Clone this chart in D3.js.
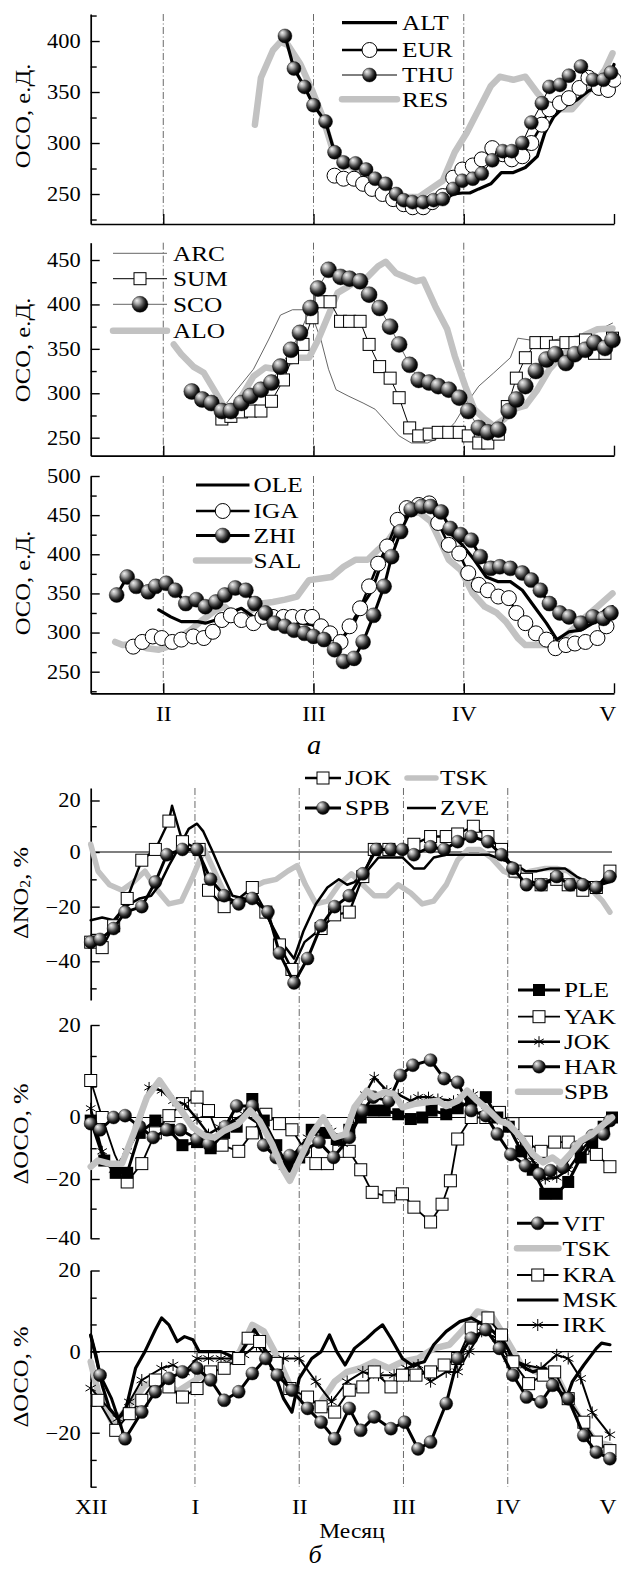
<!DOCTYPE html>
<html><head><meta charset="utf-8">
<script src="https://cdn.jsdelivr.net/npm/d3@7"></script>
<style>body{margin:0;background:#fff}svg{display:block;background:#fff}</style>
</head><body>
<script>
// ================= DATA =================
const monthTicksA = [2, 3, 4, 5];
const monthLabelsA = ["II", "III", "IV", "V"];
const monthTicksB = [0, 1, 2, 3, 4, 5];
const monthLabelsB = ["XII", "I", "II", "III", "IV", "V"];

// --- panel a1 (ОСО, е.Д.) ---
const a1ALT = [[2.81,405],[2.87,373],[2.94,355],[3.0,337],[3.08,321],[3.14,291],[3.2,281],[3.28,280],[3.35,274],[3.41,265],[3.48,260],[3.55,250],[3.6,244],[3.66,242],[3.73,241],[3.8,241],[3.86,244],[3.93,250],[3.99,251],[4.04,251],[4.1,255],[4.18,260],[4.25,271],[4.33,271],[4.41,276],[4.49,287],[4.54,310],[4.6,326],[4.67,336],[4.75,342],[4.83,351],[4.91,356],[4.96,359],[5.0,377]];
const a1EUR = [[3.14,268],[3.2,265],[3.27,265],[3.33,260],[3.39,255],[3.46,250],[3.53,245],[3.6,240],[3.66,237],[3.73,237],[3.79,242],[3.86,248],[3.93,266],[3.99,274],[4.06,278],[4.12,284],[4.19,295],[4.26,289],[4.32,284],[4.39,287],[4.45,300],[4.52,318],[4.57,333],[4.64,339],[4.7,344],[4.77,354],[4.83,364],[4.9,354],[4.96,352],[5.0,362]];
const a1THU = [[2.81,405],[2.87,373],[2.94,355],[3.0,337],[3.08,321],[3.14,291],[3.2,281],[3.28,280],[3.35,274],[3.41,265],[3.48,260],[3.55,250],[3.6,244],[3.66,242],[3.73,242],[3.8,244],[3.86,245],[3.93,255],[3.99,263],[4.06,265],[4.12,270],[4.19,283],[4.26,292],[4.32,292],[4.39,300],[4.45,320],[4.52,339],[4.57,355],[4.64,357],[4.7,366],[4.78,375],[4.86,362],[4.93,362],[4.98,369]];
const a1RES = [[2.61,318],[2.65,364],[2.73,391],[2.78,399],[2.83,396],[2.91,378],[2.99,352],[3.06,326],[3.12,297],[3.2,281],[3.28,274],[3.36,268],[3.44,258],[3.52,252],[3.6,247],[3.7,247],[3.78,255],[3.86,263],[3.94,291],[4.02,310],[4.1,333],[4.18,356],[4.24,365],[4.33,362],[4.41,365],[4.49,349],[4.57,336],[4.65,333],[4.72,333],[4.78,343],[4.86,356],[4.94,372],[4.99,388]];

// --- panel a2 ---
const a2ARC = [[2.39,282],[2.49,304],[2.6,327],[2.7,360],[2.78,388],[2.86,394],[2.95,394],[3.0,383],[3.05,360],[3.1,327],[3.15,304],[3.23,297],[3.33,289],[3.41,282],[3.49,267],[3.57,252],[3.65,244],[3.76,244],[3.86,252],[3.94,267],[4.02,289],[4.1,308],[4.2,323],[4.31,340],[4.36,362],[4.44,360],[4.6,360],[4.73,364],[4.86,368],[4.99,379]];
const a2SUM = [[2.39,271],[2.45,274],[2.52,279],[2.58,280],[2.65,280],[2.72,291],[2.8,315],[2.86,340],[2.93,355],[2.99,385],[3.05,403],[3.11,403],[3.18,381],[3.24,381],[3.31,381],[3.37,355],[3.44,330],[3.51,317],[3.57,295],[3.64,261],[3.7,252],[3.77,254],[3.83,256],[3.9,256],[3.97,256],[4.03,252],[4.1,244],[4.16,244],[4.23,254],[4.29,285],[4.35,317],[4.41,340],[4.48,357],[4.55,357],[4.61,353],[4.68,357],[4.74,357],[4.81,360],[4.87,345],[4.94,345],[4.99,362]];
const a2SCO = [[2.19,302],[2.26,293],[2.32,289],[2.39,280],[2.45,280],[2.52,289],[2.58,297],[2.65,304],[2.72,312],[2.78,330],[2.85,349],[2.91,368],[2.98,396],[3.03,418],[3.1,439],[3.18,431],[3.24,429],[3.31,426],[3.37,411],[3.44,396],[3.51,375],[3.57,355],[3.64,332],[3.7,315],[3.77,312],[3.83,308],[3.9,304],[3.97,295],[4.03,280],[4.1,261],[4.16,256],[4.23,259],[4.3,280],[4.35,293],[4.41,308],[4.48,325],[4.55,338],[4.61,344],[4.68,334],[4.74,344],[4.81,349],[4.87,357],[4.94,351],[4.99,360]];
const a2ALO = [[2.07,355],[2.12,344],[2.2,330],[2.27,323],[2.33,306],[2.4,286],[2.47,284],[2.53,299],[2.6,319],[2.68,329],[2.76,327],[2.83,334],[2.9,340],[2.97,340],[3.03,360],[3.1,388],[3.16,413],[3.23,420],[3.3,428],[3.36,431],[3.43,443],[3.48,448],[3.55,435],[3.61,431],[3.68,426],[3.73,428],[3.81,398],[3.89,372],[3.94,342],[4.01,308],[4.07,282],[4.14,271],[4.2,263],[4.27,271],[4.33,282],[4.41,286],[4.49,304],[4.57,327],[4.65,342],[4.73,353],[4.81,366],[4.89,372],[4.99,373]];

// --- panel a3 ---
const a3OLE = [[1.97,329],[2.05,320],[2.12,314],[2.23,314],[2.28,312],[2.35,316],[2.44,325],[2.52,331],[2.6,320],[2.68,316],[2.76,312],[2.83,314],[2.91,312],[2.99,310],[3.07,303],[3.15,291],[3.2,295],[3.27,312],[3.32,333],[3.39,354],[3.45,388],[3.52,414],[3.58,440],[3.65,459],[3.72,463],[3.78,461],[3.85,444],[3.91,427],[3.99,412],[4.07,393],[4.15,371],[4.23,365],[4.31,365],[4.39,354],[4.47,333],[4.55,312],[4.62,291],[4.7,301],[4.78,303],[4.86,312],[4.94,329],[4.99,333]];
const a3IGA = [[1.8,282],[1.86,288],[1.93,295],[1.99,293],[2.06,288],[2.12,291],[2.2,295],[2.27,293],[2.33,301],[2.39,316],[2.45,322],[2.52,316],[2.6,312],[2.66,320],[2.73,320],[2.8,320],[2.86,320],[2.93,320],[2.99,320],[3.05,308],[3.11,299],[3.18,288],[3.24,308],[3.31,331],[3.37,359],[3.43,388],[3.49,410],[3.56,444],[3.62,459],[3.7,463],[3.77,465],[3.83,440],[3.9,412],[3.97,401],[4.03,376],[4.1,361],[4.16,354],[4.23,346],[4.3,344],[4.35,325],[4.41,312],[4.48,299],[4.55,291],[4.61,280],[4.68,284],[4.74,286],[4.81,288],[4.89,293],[4.95,308]];
const a3ZHI = [[1.69,348],[1.76,371],[1.82,359],[1.9,352],[1.95,359],[2.02,363],[2.08,354],[2.15,337],[2.22,342],[2.28,333],[2.35,339],[2.41,348],[2.48,357],[2.55,354],[2.61,337],[2.68,325],[2.74,312],[2.81,308],[2.87,303],[2.94,299],[3.0,295],[3.07,291],[3.14,278],[3.2,263],[3.27,267],[3.33,288],[3.4,322],[3.47,359],[3.52,397],[3.58,429],[3.65,457],[3.72,461],[3.78,461],[3.85,454],[3.91,433],[3.98,425],[4.05,418],[4.11,397],[4.18,382],[4.24,384],[4.31,382],[4.39,376],[4.45,367],[4.51,354],[4.57,337],[4.64,325],[4.7,320],[4.78,312],[4.86,320],[4.93,318],[4.98,325]];
const a3SAL = [[1.68,288],[1.73,284],[1.81,286],[1.89,280],[1.97,278],[2.03,282],[2.1,293],[2.18,303],[2.26,316],[2.35,329],[2.41,333],[2.49,318],[2.56,325],[2.65,337],[2.73,339],[2.81,342],[2.89,346],[2.97,367],[3.05,369],[3.12,371],[3.2,384],[3.28,393],[3.36,393],[3.43,406],[3.49,416],[3.56,435],[3.62,450],[3.7,454],[3.78,442],[3.85,414],[3.9,393],[3.98,380],[4.06,350],[4.14,333],[4.22,325],[4.28,314],[4.36,293],[4.41,284],[4.49,284],[4.57,284],[4.65,291],[4.73,305],[4.81,320],[4.89,333],[4.99,350]];

// --- panel b1 (ΔNO2, %) --- third element 0 = no marker at that point
const b1JOK = [[0,-33],[0.11,-35],[0.22,-27],[0.35,-17],[0.49,-3],[0.62,1],[0.75,12],[0.78,18,0],[0.88,4],[1.04,1],[1.13,-14],[1.28,-20],[1.42,-17,0],[1.55,-13],[1.68,-22],[1.81,-34],[1.93,-43],[2.05,-33,0],[2.21,-28],[2.34,-23],[2.48,-22],[2.61,-9],[2.72,1],[2.86,1],[3.1,3],[3.26,6],[3.41,6],[3.52,7],[3.67,10],[3.81,6],[3.94,1],[4.07,-7],[4.18,-10],[4.32,-12],[4.47,-10],[4.58,-12],[4.72,-14],[4.85,-13],[4.98,-7]];
const b1SPB = [[0,-33],[0.09,-32],[0.22,-28],[0.33,-22],[0.49,-20],[0.62,-11],[0.73,-1],[0.88,1],[1.02,1],[1.15,-10],[1.28,-16],[1.42,-19],[1.55,-17],[1.7,-22],[1.81,-37],[1.95,-48],[2.08,-39],[2.21,-27],[2.34,-20],[2.48,-16],[2.61,-8],[2.74,1],[2.88,1],[2.99,1],[3.1,-1],[3.26,2],[3.39,1],[3.52,4],[3.65,6],[3.81,4],[3.94,-1],[4.05,-6],[4.18,-12],[4.32,-12],[4.47,-9],[4.6,-12],[4.72,-12],[4.85,-13],[4.98,-9]];
const b1TSK = [[0,3],[0.07,-7],[0.18,-12],[0.3,-14],[0.41,-11],[0.52,-7],[0.64,-14],[0.75,-19],[0.87,-18],[0.98,-9],[1.09,1],[1.21,-9],[1.32,-18],[1.43,-19],[1.55,-13],[1.66,-11],[1.78,-10],[1.89,-7],[1.98,-5],[2.06,-12],[2.16,-19],[2.27,-18],[2.38,-12],[2.5,-8],[2.61,-12],[2.72,-16],[2.84,-16],[2.95,-12],[3.07,-15],[3.18,-19],[3.29,-18],[3.41,-12],[3.52,-3],[3.62,1],[3.73,1],[3.84,-2],[3.96,-7],[4.09,-9],[4.22,-7],[4.36,-6],[4.47,-6],[4.58,-7],[4.7,-11],[4.81,-14],[4.91,-18],[4.98,-22]];
const b1ZVE = [[0,-25],[0.11,-24],[0.22,-25],[0.33,-20],[0.47,-17],[0.58,-16],[0.66,-12],[0.75,-5],[0.85,2],[0.94,9],[1.02,11],[1.08,8],[1.16,1],[1.25,-7],[1.36,-16],[1.47,-17],[1.59,-18],[1.7,-24],[1.81,-32],[1.95,-39],[2.04,-29],[2.16,-19],[2.27,-13],[2.38,-10],[2.46,-12],[2.53,-11],[2.65,-7],[2.76,-2],[2.88,-2],[2.99,-2],[3.1,-6],[3.2,-6],[3.29,-2],[3.41,-1],[3.52,-1],[3.67,-1],[3.82,-1],[3.96,-3],[4.05,-4],[4.17,-7],[4.28,-7],[4.41,-6],[4.55,-6],[4.66,-9],[4.77,-11],[4.89,-12],[4.98,-11]];

// --- panel b2 (ΔОСО, %) ---
const b2PLE = [[0,-1],[0.13,-14],[0.24,-18],[0.35,-18],[0.47,-5],[0.62,-1],[0.75,-4],[0.88,-9],[1.02,-8],[1.15,-10],[1.28,-5],[1.4,-3],[1.55,4],[1.66,-1],[1.78,-9],[1.89,-16],[2.0,-13],[2.12,-4],[2.25,-5],[2.36,-7],[2.48,-4],[2.59,0],[2.71,1.5],[2.82,1.5],[2.95,0.7],[3.07,-0.5],[3.18,0],[3.27,1.5],[3.41,0.7],[3.52,2],[3.65,3.6],[3.79,4.4],[3.9,0],[4.01,-3],[4.13,-11],[4.24,-17],[4.36,-25],[4.47,-25],[4.58,-21],[4.7,-13],[4.81,-8],[4.92,-3],[5.0,0]];
const b2YAK = [[0,8],[0.11,0],[0.23,-12,0],[0.35,-21],[0.49,-15],[0.62,-5],[0.75,0.4],[0.88,3],[1.02,4.4],[1.13,1.5],[1.26,-9],[1.42,-11],[1.55,-5],[1.68,0.7],[1.81,-2],[1.93,-4],[2.06,-11],[2.16,-15],[2.27,-15],[2.38,-11],[2.48,-11],[2.59,-17],[2.7,-24.5],[2.86,-26],[2.99,-25],[3.1,-29.5],[3.26,-34.5],[3.37,-28.5],[3.45,-20.6],[3.52,-7],[3.65,0],[3.79,0],[3.92,1.1],[4.05,-2],[4.18,-8],[4.32,-11],[4.45,-8],[4.58,-8],[4.72,-10],[4.85,-12],[4.98,-16]];
const b2JOK = [[0,2],[0.11,-11],[0.22,-17],[0.35,-11],[0.45,-5],[0.56,6.5],[0.68,5.8],[0.79,3.6],[0.9,2.9],[1.02,-0.5],[1.13,-5.4],[1.24,-3.2],[1.36,-1.1],[1.47,0.7],[1.62,-2.2],[1.74,-8.6],[1.85,-16],[2.08,-6.5],[2.19,-4.3],[2.31,-4.3],[2.42,-8.6],[2.52,0],[2.63,5],[2.72,8.7],[2.84,5.8],[2.95,5],[3.07,3.6],[3.14,4.4],[3.24,4.4],[3.33,4],[3.48,3.6],[3.56,4.4],[3.67,5],[3.79,1.5],[3.9,-0.5],[4.01,-2.2],[4.13,-7.6],[4.24,-14],[4.36,-20],[4.47,-19.5],[4.58,-17],[4.7,-11],[4.81,-6.5],[4.92,-3.2],[5.0,0]];
const b2HAR = [[0,-2],[0.09,-4],[0.22,0],[0.33,0.4],[0.47,-3],[0.6,-6.5],[0.73,-4],[0.86,-4],[1.02,-7],[1.13,-8.6],[1.29,-3],[1.4,2.5],[1.55,2.5],[1.66,-9],[1.78,-13],[1.91,-12.4],[2.04,-10.8],[2.19,-8],[2.33,-13],[2.48,-6.5],[2.61,1.5],[2.71,4.4],[2.86,3.6],[2.97,9.1],[3.09,11.3],[3.26,12.4],[3.39,8.4],[3.52,7.6],[3.65,1.5],[3.79,0.4],[3.9,-5.4],[4.03,-12],[4.17,-15.7],[4.3,-18.4],[4.41,-17.3],[4.53,-16.2],[4.66,-9.7],[4.81,-5.9],[4.92,-5.4],[4.98,-1]];
const b2SPB = [[0,-16],[0.07,-14],[0.18,-15],[0.3,-15],[0.41,-5.4],[0.54,4.4],[0.66,8],[0.77,4.4],[0.87,1.5],[0.98,-3.2],[1.09,-5.9],[1.19,-6.5],[1.28,-4.3],[1.41,-2.2],[1.53,1.5],[1.62,-1.1],[1.74,-8.6],[1.83,-16],[1.91,-20.6],[2.0,-14],[2.12,-5.4],[2.23,0],[2.34,-6.5],[2.44,-5.4],[2.53,2.2],[2.65,5.8],[2.72,4.4],[2.82,5.5],[2.91,5.1],[2.99,2.2],[3.1,2.9],[3.22,3.3],[3.33,3.6],[3.41,2.5],[3.52,3.6],[3.61,5.8],[3.71,3.6],[3.82,1.5],[3.92,-1.1],[4.01,-2.2],[4.13,-6.5],[4.24,-11.9],[4.34,-14.6],[4.43,-13],[4.51,-15.1],[4.6,-11.9],[4.7,-7.6],[4.81,-5.4],[4.92,-2.2],[5.0,0]];

// --- panel b3 (ΔОСО, %) ---
const b3VIT = [[0,4,0],[0.09,-5.8],[0.2,-11.6,0],[0.33,-21.5],[0.49,-14.9],[0.62,-9.9],[0.75,-6.6],[0.88,-5],[1.02,-4.1],[1.15,-7],[1.28,-12],[1.42,-9.9],[1.55,-5.4],[1.68,-1.7],[1.79,-5.8],[1.93,-9.5],[2.08,-14],[2.21,-17.4],[2.34,-21.5],[2.48,-14],[2.59,-19.4],[2.72,-16.1],[2.88,-19],[3.01,-17.4],[3.14,-24],[3.26,-22.3],[3.41,-12.8],[3.52,-1.7],[3.65,3.3],[3.79,5.4],[3.92,0.8],[4.05,-5.8],[4.18,-11.2],[4.32,-12.4],[4.43,-8.3],[4.58,-11.6],[4.73,-20.7],[4.85,-24.8],[4.98,-26.4]];
const b3TSK = [[0,-2.5],[0.07,-9.9],[0.22,-18.2],[0.37,-13.2],[0.52,-8.3],[0.68,-6.6],[0.83,-9.9],[0.98,-7.4],[1.13,-5],[1.28,-3.3],[1.43,0],[1.55,6.6],[1.66,5],[1.78,-0.8],[1.91,-8.3],[2.04,-12.4],[2.19,-13.2],[2.34,-7.4],[2.46,-5],[2.59,-4.1],[2.72,-2.5],[2.86,-4.1],[2.99,-2.5],[3.14,-1.7],[3.29,0.8],[3.44,1.7],[3.56,5],[3.71,9.9],[3.84,9.1],[3.98,3.3],[4.13,-3.3],[4.28,-5],[4.43,-4.1],[4.58,-11.6],[4.73,-18.2],[4.85,-22.3],[4.98,-23.1]];
const b3KRA = [[0.07,-12],[0.24,-19.4],[0.37,-15.3],[0.49,-12],[0.62,-7],[0.75,-8.7],[0.88,-11.2],[1.02,-9.1],[1.15,-5],[1.28,-4.1],[1.42,-1.7],[1.51,3.3],[1.62,2.5],[1.78,-2.9],[1.91,-9.1],[2.08,-11.2],[2.21,-13.6],[2.34,-14.9],[2.48,-9.5],[2.61,-8.7],[2.72,-5],[2.88,-8.7],[2.99,-5.8],[3.12,-5.8],[3.26,-5],[3.39,-3.3],[3.52,-1.7],[3.65,5.8],[3.81,8.3],[3.94,4.1],[4.05,-2.5],[4.2,-7.9],[4.34,-5.8],[4.45,-5],[4.58,-11.6],[4.73,-17.4],[4.85,-22.3],[4.98,-24.4]];
const b3MSK = [[0,4.1],[0.05,-0.8],[0.11,-8.3],[0.18,-14],[0.26,-16.5],[0.33,-14.9],[0.43,-4.1],[0.52,0],[0.62,5.4],[0.68,8.3],[0.75,6.6],[0.83,2.5],[0.9,3.7],[0.98,2.9],[1.04,0],[1.13,0],[1.25,0],[1.4,-1.7],[1.49,1.7],[1.57,5.4],[1.62,3.5],[1.7,-1.7],[1.78,-6.6],[1.85,-11.6],[1.93,-14.9],[2.0,-6.6],[2.12,-1.7],[2.21,0],[2.29,4.1],[2.36,0],[2.44,-3.3],[2.53,0.8],[2.65,3.3],[2.72,5],[2.8,6.6],[2.88,3.3],[2.99,-1.7],[3.08,-3.3],[3.2,-2.5],[3.29,1.7],[3.41,5],[3.54,7.4],[3.65,8.3],[3.77,6.6],[3.86,5],[3.98,1.7],[4.05,-1.7],[4.17,-4.1],[4.24,-5],[4.36,-4.1],[4.47,-8.3],[4.55,-12.4],[4.62,-7.4],[4.73,-3.3],[4.85,0.8],[4.9,2.1],[4.98,1.7]];
const b3IRK = [[0,-9],[0.26,-16.5],[0.37,-12.4],[0.49,-7],[0.68,-4.1],[0.79,-3.3],[0.9,-5],[1.02,-1.7],[1.13,-1.7],[1.25,-1.7],[1.36,-1.7],[1.47,-0.8],[1.59,1.7],[1.7,-1.7],[1.85,-1.7],[2.0,-1.7],[2.16,-7.4],[2.31,-12.4],[2.46,-7.4],[2.61,-5],[2.76,-5.8],[2.91,-5.8],[3.03,-4.1],[3.14,-3.3],[3.26,-7.4],[3.41,-5],[3.52,-5],[3.63,0],[3.75,5],[3.9,3.3],[4.01,-1.7],[4.17,-3.3],[4.32,-4.1],[4.47,-0.8],[4.58,-1.7],[4.7,-6.6],[4.81,-15],[4.98,-20.5]];

// ================= DRAWING =================
const FONT = '"Liberation Serif","Times New Roman",serif';
const W = 621, H = 1575, X0 = 90.7;
const svg = d3.select('body').append('svg').attr('width', W).attr('height', H);
const defs = svg.append('defs');
const gr = defs.append('radialGradient').attr('id','sph').attr('cx','0.4').attr('cy','0.38').attr('r','0.62').attr('fx','0.3').attr('fy','0.26');
[[0,'#f2f2f2'],[0.3,'#a8a8a8'],[0.58,'#4a4a4a'],[0.8,'#111'],[1,'#000']].forEach(s=>gr.append('stop').attr('offset',s[0]).attr('stop-color',s[1]));

const GRAY = '#c2c2c2';
const xa = d3.scaleLinear().domain([1.517, 5]).range([X0, 614]);
const xb = d3.scaleLinear().domain([0, 5]).range([X0, 612]);
const ya1 = d3.scaleLinear().domain([220.6, 426.5]).range([224, 14]);
const ya2 = d3.scaleLinear().domain([229.7, 469.5]).range([455.7, 242.7]);
const ya3 = d3.scaleLinear().domain([222.4, 500]).range([693.3, 476]);
const yb1 = d3.scaleLinear().domain([25, 20, 0, -40, -54.3]).range([788, 800.5, 852, 961.3, 1000]);
const yb2 = d3.scaleLinear().domain([20, 0, -20, -40]).range([1025, 1117.5, 1179, 1238.3]);
const yb3 = d3.scaleLinear().domain([20, -33.3]).range([1270.5, 1486.7]);

function text(x, y, s, o = {}) {
  const t = svg.append('text')
    .attr('transform', `translate(${x},${y}) rotate(${o.rot || 0}) scale(${o.sx || 1.12},1)`)
    .attr('text-anchor', o.anchor || 'start').attr('dominant-baseline', 'central')
    .attr('font-family', FONT).attr('font-size', o.size || 21).attr('fill', '#000')
    .attr('font-style', o.italic ? 'italic' : 'normal');
  if (Array.isArray(s)) s.forEach(p => t.append('tspan').text(p.t).attr('font-size', p.size || null).attr('dy', p.dy || null));
  else t.text(s);
  return t;
}

function marker(g, type, x, y, r) {
  if (type === 'circle') g.append('circle').attr('cx', x).attr('cy', y).attr('r', r).attr('fill', '#fff').attr('stroke', '#000').attr('stroke-width', 1);
  else if (type === 'sphere') g.append('circle').attr('cx', x).attr('cy', y).attr('r', r).attr('fill', 'url(#sph)').attr('stroke', '#000').attr('stroke-width', 0.4);
  else if (type === 'square') g.append('rect').attr('x', x - r).attr('y', y - r).attr('width', 2 * r).attr('height', 2 * r).attr('fill', '#fff').attr('stroke', '#000').attr('stroke-width', 1);
  else if (type === 'bsquare') g.append('rect').attr('x', x - r).attr('y', y - r).attr('width', 2 * r).attr('height', 2 * r).attr('fill', '#000');
  else if (type === 'star') {
    [90, 30, 150].forEach(a => {
      const dx = r * Math.cos(a * Math.PI / 180), dy = r * Math.sin(a * Math.PI / 180);
      g.append('line').attr('x1', x - dx).attr('y1', y - dy).attr('x2', x + dx).attr('y2', y + dy).attr('stroke', '#000').attr('stroke-width', 1);
    });
  }
}

function series(x, y, data, st) {
  const g = svg.append('g');
  g.append('path').datum(data).attr('fill', 'none').attr('stroke', st.c).attr('stroke-width', st.w)
    .attr('stroke-linejoin', 'round').attr('stroke-linecap', 'round')
    .attr('d', d3.line().x(d => x(d[0])).y(d => y(d[1])));
  if (st.m) data.forEach(d => { if (d[2] !== 0) marker(g, st.m, x(d[0]), y(d[1]), st.r); });
}

function legendItem(x1, x2, tx, yy, name, st) {
  const g = svg.append('g');
  g.append('line').attr('x1', x1).attr('x2', x2).attr('y1', yy).attr('y2', yy).attr('stroke', st.c).attr('stroke-width', st.w).attr('stroke-linecap', st.c === GRAY ? 'round' : 'butt');
  if (st.m) marker(g, st.m, (x1 + x2) / 2, yy, st.r);
  text(tx, yy, name, { size: 22, sx: 1.15 });
}

function dashLines(x, months, yTop, yBot) {
  months.forEach(m => svg.append('line').attr('x1', x(m)).attr('x2', x(m)).attr('y1', yTop).attr('y2', yBot)
    .attr('stroke', '#444').attr('stroke-width', 0.8).attr('stroke-dasharray', '7,2.5,1,2.5'));
}

function yAxis(y, major, minor) {
  const g = svg.append('g').attr('transform', `translate(${X0},0)`);
  g.call(d3.axisLeft(y).tickValues(major).tickSizeInner(-9).tickSizeOuter(0).tickPadding(9));
  g.append('g').call(d3.axisLeft(y).tickValues(minor).tickSizeInner(-6).tickSizeOuter(0).tickFormat(''))
    .select('.domain').remove();
  g.selectAll('.domain').attr('stroke-width', 1.7).attr('stroke', '#000');
  g.selectAll('.tick line').attr('stroke-width', 1.4).attr('stroke', '#000');
  g.selectAll('.tick text').attr('font-family', FONT).attr('font-size', 20).attr('fill', '#000')
    .attr('transform', 'scale(1.12,1)');
  return g;
}

// shift the last (edge) month label inward so it is not cut by the page edge
function fixEdge(g, n, dx) {
  g.selectAll('.tick text').filter((d, i) => i === n - 1).attr('x', dx);
}

function xAxisA(yPix, labels) {
  const g = svg.append('g').attr('transform', `translate(0,${yPix})`);
  g.call(d3.axisBottom(xa).tickValues(monthTicksA).tickSizeInner(-10).tickSizeOuter(0)
    .tickFormat((d, i) => labels ? monthLabelsA[i] : ''));
  g.selectAll('.domain').attr('stroke-width', 1.7).attr('stroke', '#000');
  g.selectAll('.tick line').attr('stroke-width', 1.4).attr('stroke', '#000');
  g.selectAll('.tick text').attr('font-family', FONT).attr('font-size', 21).attr('fill', '#000')
    .attr('y', 20).attr('dy', '0.35em').attr('transform', 'scale(1.12,1)');
  if (labels) fixEdge(g, monthTicksA.length, -6);
}

// ---------- styles ----------
const S = {
  blk3: { c: '#000', w: 3.2 },
  circ: { c: '#000', w: 2.6, m: 'circle', r: 7.5 },
  thinSph: { c: '#000', w: 1, m: 'sphere', r: 7 },
  gray: { c: GRAY, w: 6.5 },
  arc: { c: '#555', w: 0.9 },
  thinSq: { c: '#000', w: 1, m: 'square', r: 6 },
  sco: { c: '#666', w: 1, m: 'sphere', r: 8 },
  zhi: { c: '#000', w: 3, m: 'sphere', r: 7.5 },
  sqB1: { c: '#000', w: 2.4, m: 'square', r: 6 },
  sphB: { c: '#000', w: 3, m: 'sphere', r: 6.5 },
  grayB: { c: GRAY, w: 5.5 },
  blk25: { c: '#000', w: 2.5 },
  ple: { c: '#000', w: 3, m: 'bsquare', r: 6 },
  yak: { c: '#000', w: 1.8, m: 'square', r: 6 },
  star: { c: '#000', w: 2.4, m: 'star', r: 5.5 },
  kra: { c: '#000', w: 2, m: 'square', r: 6 },
  irk: { c: '#000', w: 2, m: 'star', r: 6 }
};

// ---------- panel a1 ----------
dashLines(xa, [2, 3, 4], 14, 224);
yAxis(ya1, [250, 300, 350, 400], [225, 275, 325, 375, 425]);
xAxisA(224, false);
series(xa, ya1, a1RES, S.gray);
series(xa, ya1, a1ALT, S.blk3);
series(xa, ya1, a1EUR, S.circ);
series(xa, ya1, a1THU, S.thinSph);
legendItem(342, 397, 402, 22.7, 'ALT', S.blk3);
legendItem(342, 397, 402, 50, 'EUR', S.circ);
legendItem(342, 397, 402, 75, 'THU', S.thinSph);
legendItem(342, 397, 402, 99.3, 'RES', S.gray);
text(22, 116, 'ОСО, е.Д.', { rot: -90, anchor: 'middle', size: 22 });

// ---------- panel a2 ----------
dashLines(xa, [2, 3, 4], 242.7, 455.7);
yAxis(ya2, [250, 300, 350, 400, 450], [275, 325, 375, 425]);
xAxisA(455.7, false);
series(xa, ya2, a2ARC, S.arc);
series(xa, ya2, a2ALO, S.gray);
series(xa, ya2, a2SUM, S.thinSq);
series(xa, ya2, a2SCO, S.sco);
legendItem(113, 167, 173, 253.3, 'ARC', S.arc);
legendItem(113, 167, 173, 278.7, 'SUM', S.thinSq);
legendItem(113, 167, 173, 304.3, 'SCO', S.sco);
legendItem(113, 167, 173, 330.7, 'ALO', S.gray);
text(22, 350, 'ОСО, е.Д.', { rot: -90, anchor: 'middle', size: 22 });

// ---------- panel a3 ----------
dashLines(xa, [2, 3, 4], 476, 693.3);
yAxis(ya3, [250, 300, 350, 400, 450, 500], [225, 275, 325, 375, 425, 475]);
xAxisA(693.3, true);
series(xa, ya3, a3SAL, S.gray);
series(xa, ya3, a3OLE, S.blk3);
series(xa, ya3, a3IGA, S.circ);
series(xa, ya3, a3ZHI, S.zhi);
legendItem(196, 249.5, 253.5, 485, 'OLE', S.blk3);
legendItem(196, 249.5, 253.5, 511, 'IGA', S.circ);
legendItem(196, 249.5, 253.5, 535.5, 'ZHI', S.zhi);
legendItem(196, 249.5, 253.5, 560.5, 'SAL', S.gray);
text(22, 583, 'ОСО, е.Д.', { rot: -90, anchor: 'middle', size: 22 });
text(314, 745, 'а', { size: 27, italic: true, anchor: 'middle', sx: 1.05 });

// ---------- panel b (shared month lines) ----------
dashLines(xb, [1, 2, 3, 4], 788, 1487);

[yb1, yb2, yb3].forEach(y => svg.append('line').attr('x1', X0).attr('x2', 612).attr('y1', y(0)).attr('y2', y(0)).attr('stroke', '#000').attr('stroke-width', 1.2));

// b1
yAxis(yb1, [20, 0, -20, -40], [10, -10, -30, -50]);
series(xb, yb1, b1TSK, S.grayB);
series(xb, yb1, b1ZVE, S.blk25);
series(xb, yb1, b1JOK, S.sqB1);
series(xb, yb1, b1SPB, S.sphB);
legendItem(305, 341, 345, 778, 'JOK', S.sqB1);
legendItem(305, 341, 345, 808, 'SPB', S.sphB);
legendItem(407, 436, 440, 778, 'TSK', S.grayB);
legendItem(407, 436, 440, 808, 'ZVE', S.blk25);
text(20, 893, [{ t: 'ΔNO' }, { t: '2', size: 14, dy: 5 }, { t: ', %', dy: -5 }], { rot: -90, anchor: 'middle', size: 22 });

// b2
yAxis(yb2, [20, 0, -20, -40], [13.3, 6.7, -10, -30]);
series(xb, yb2, b2YAK, S.yak);
series(xb, yb2, b2PLE, S.ple);
series(xb, yb2, b2JOK, S.star);
series(xb, yb2, b2HAR, S.sphB);
series(xb, yb2, b2SPB, S.gray);
legendItem(518, 560, 564, 990, 'PLE', S.ple);
legendItem(518, 560, 564, 1016.7, 'YAK', S.yak);
legendItem(518, 560, 564, 1041.7, 'JOK', S.star);
legendItem(518, 560, 564, 1066.7, 'HAR', S.sphB);
legendItem(518, 560, 564, 1091.7, 'SPB', S.gray);
text(20, 1134, 'ΔОСО, %', { rot: -90, anchor: 'middle', size: 22 });

// b3
yAxis(yb3, [20, 0, -20], [13.3, 6.7, -6.7, -13.3, -26.7, -33.3]);
series(xb, yb3, b3TSK, S.gray);
series(xb, yb3, b3MSK, S.blk3);
series(xb, yb3, b3IRK, S.irk);
series(xb, yb3, b3KRA, S.kra);
series(xb, yb3, b3VIT, S.sphB);
legendItem(517, 558.5, 562.4, 1223.3, 'VIT', S.sphB);
legendItem(517, 558.5, 562.4, 1248.3, 'TSK', S.gray);
legendItem(517, 558.5, 562.4, 1275, 'KRA', S.kra);
legendItem(517, 558.5, 562.4, 1300, 'MSK', S.blk3);
legendItem(517, 558.5, 562.4, 1325, 'IRK', S.irk);
text(20, 1377, 'ΔОСО, %', { rot: -90, anchor: 'middle', size: 22 });

// b x labels
const gxb = svg.append('g').attr('transform', 'translate(0,1506.7)');
gxb.call(d3.axisBottom(xb).tickValues(monthTicksB).tickSize(0).tickPadding(0).tickFormat((d, i) => monthLabelsB[i]));
gxb.select('.domain').remove();
gxb.selectAll('.tick text').attr('font-family', FONT).attr('font-size', 21).attr('fill', '#000')
  .attr('y', 0).attr('dy', '0.35em').attr('transform', 'scale(1.12,1)');
fixEdge(gxb, monthTicksB.length, -4);
text(352, 1531, 'Месяц', { size: 21, anchor: 'middle' });
text(315, 1555, 'б', { size: 25, italic: true, anchor: 'middle', sx: 1.05 });
</script>
</body></html>
